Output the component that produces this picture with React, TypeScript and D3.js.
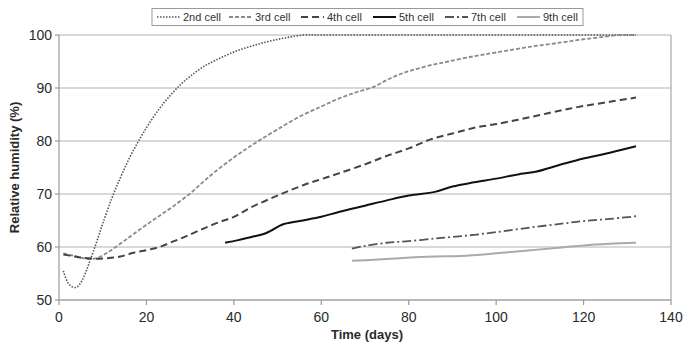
import React from 'react';
import * as d3 from 'd3';

// [day, relative humidity %]
const cell2: [number, number][] = [
  [1, 55.5], [2, 53.3], [3, 52.5], [4, 52.4], [5, 53.3], [6, 55], [7, 57.2], [8, 59.5], [9, 61.9],
  [10, 64.4], [12, 69], [14, 73], [16, 76.6], [18, 79.7], [20, 82.5], [22, 85], [24, 87.2],
  [26, 89.1], [28, 90.8], [30, 92.2], [33, 94], [36, 95.3], [40, 96.8], [44, 97.9], [48, 98.8],
  [52, 99.5], [56, 100], [60, 100], [132, 100],
];
const cell3: [number, number][] = [
  [1, 58.8], [3, 58.4], [5, 58], [7, 57.7], [9, 58], [11, 58.9], [13, 60], [15, 61.2], [17, 62.4],
  [20, 64.2], [23, 65.9], [26, 67.6], [30, 70.1], [33, 72.3], [36, 74.4], [40, 76.9], [43, 78.6],
  [46, 80.2], [50, 82.2], [55, 84.6], [60, 86.5], [64, 88], [68, 89.2], [72, 90.2], [75, 91.5],
  [78, 92.6], [81, 93.4], [85, 94.3], [89, 95], [95, 96], [100, 96.7], [108, 97.8], [115, 98.6],
  [120, 99.2], [125, 99.7], [128, 100], [132, 100],
];
const cell4: [number, number][] = [
  [1, 58.6], [3, 58.3], [5, 58], [8, 57.8], [11, 57.9], [14, 58.2], [17, 58.9], [20, 59.4],
  [23, 60], [26, 61], [29, 62], [32, 63.1], [36, 64.5], [40, 65.7], [44, 67.5], [48, 69],
  [52, 70.4], [56, 71.7], [60, 72.8], [64, 73.9], [70, 75.6], [75, 77.2], [80, 78.6], [85, 80.3],
  [90, 81.4], [95, 82.5], [100, 83.2], [105, 84], [110, 84.9], [115, 85.8], [120, 86.6],
  [126, 87.4], [132, 88.2],
];
const cell5: [number, number][] = [
  [38, 60.8], [41, 61.3], [44, 61.9], [47, 62.5], [49, 63.3], [51, 64.2], [55, 64.9], [60, 65.7],
  [64, 66.6], [70, 67.8], [75, 68.8], [80, 69.7], [86, 70.4], [90, 71.4], [95, 72.2], [100, 72.9],
  [105, 73.7], [109, 74.2], [115, 75.6], [120, 76.7], [125, 77.6], [132, 79],
];
const cell7: [number, number][] = [
  [67, 59.7], [70, 60.2], [75, 60.8], [80, 61.1], [86, 61.6], [90, 61.9], [95, 62.3], [100, 62.8],
  [108, 63.7], [115, 64.4], [120, 64.9], [126, 65.3], [132, 65.8],
];
const cell9: [number, number][] = [
  [67, 57.4], [72, 57.6], [78, 57.9], [86, 58.2], [92, 58.3], [100, 58.8], [108, 59.4],
  [115, 59.9], [120, 60.3], [126, 60.6], [132, 60.8],
];

const xTicks = [0, 20, 40, 60, 80, 100, 120, 140];
const yTicks = [50, 60, 70, 80, 90, 100];

const series = [
  { name: '2nd cell', data: cell2, color: '#555', dash: '1.5,1.5', w: 1.6 },
  { name: '3rd cell', data: cell3, color: '#8a8a8a', dash: '4,2', w: 1.8 },
  { name: '4th cell', data: cell4, color: '#444', dash: '7,4', w: 2 },
  { name: '5th cell', data: cell5, color: '#111', dash: null, w: 2 },
  { name: '7th cell', data: cell7, color: '#555', dash: '9,3,2,3', w: 1.8 },
  { name: '9th cell', data: cell9, color: '#aaa', dash: null, w: 2 },
];

const W = 686, H = 344;
const m = { left: 59, right: 15, top: 35, bottom: 44 };

const App = () => {
  const x = d3.scaleLinear().domain([0, 140]).range([m.left, W - m.right]);
  const y = d3.scaleLinear().domain([50, 100]).range([H - m.bottom, m.top]);
  const line = d3.line<[number, number]>()
    .x(d => x(d[0]))
    .y(d => y(d[1]))
    .curve(d3.curveCatmullRom.alpha(0.5));

  const font = 'Liberation Sans, Arial, sans-serif';
  const legX = 157, legStep = 72;

  return (
    <svg width={W} height={H} style={{ position: 'absolute', left: 0, top: 0, background: '#fff' }}
      fontFamily={font}>
      {/* grid */}
      {yTicks.map(t => (
        <line key={t} x1={x(0)} x2={x(140)} y1={y(t)} y2={y(t)} stroke="#b4b4b4" strokeWidth={1.2} />
      ))}
      <line x1={x(140)} x2={x(140)} y1={y(100)} y2={y(50)} stroke="#a8a8a8" strokeWidth={1.2} />

      {/* axes */}
      <line x1={x(0)} x2={x(0)} y1={y(100)} y2={y(50)} stroke="#999" strokeWidth={1.2} />
      <line x1={x(0)} x2={x(140)} y1={y(50)} y2={y(50)} stroke="#999" strokeWidth={1.2} />
      {yTicks.map(t => (
        <g key={t}>
          <line x1={x(0) - 4} x2={x(0)} y1={y(t)} y2={y(t)} stroke="#999" strokeWidth={1.2} />
          <text x={x(0) - 7} y={y(t)} dy="0.36em" textAnchor="end" fontSize={14} fill="#2a2a2a">{t}</text>
        </g>
      ))}
      {xTicks.map(t => (
        <g key={t}>
          <line x1={x(t)} x2={x(t)} y1={y(50)} y2={y(50) + 5} stroke="#999" strokeWidth={1.2} />
          <text x={x(t)} y={y(50) + 22} textAnchor="middle" fontSize={14} fill="#2a2a2a">{t}</text>
        </g>
      ))}
      <text transform={`translate(19,${(y(50) + y(100)) / 2}) rotate(-90)`} textAnchor="middle"
        fontSize={13} fontWeight="bold" fill="#2a2a2a">Relative humidity (%)</text>
      <text x={367} y={339} textAnchor="middle" fontSize={13} fontWeight="bold" fill="#2a2a2a">Time (days)</text>

      {/* series */}
      {series.map(s => (
        <path key={s.name} d={line(s.data) ?? ''} fill="none" stroke={s.color} strokeWidth={s.w}
          strokeDasharray={s.dash ?? undefined} />
      ))}

      {/* legend */}
      <rect x={152} y={8.5} width={431} height={17} fill="#fff" stroke="#999" strokeWidth={1} />
      {series.map((s, i) => (
        <g key={s.name} transform={`translate(${legX + i * legStep},17)`}>
          <line x1={0} x2={23} y1={0} y2={0} stroke={s.color} strokeWidth={s.w}
            strokeDasharray={s.dash ?? undefined} />
          <text x={26} y={0} dy="0.35em" fontSize={11} fill="#333">{s.name}</text>
        </g>
      ))}
    </svg>
  );
};

export default App;
